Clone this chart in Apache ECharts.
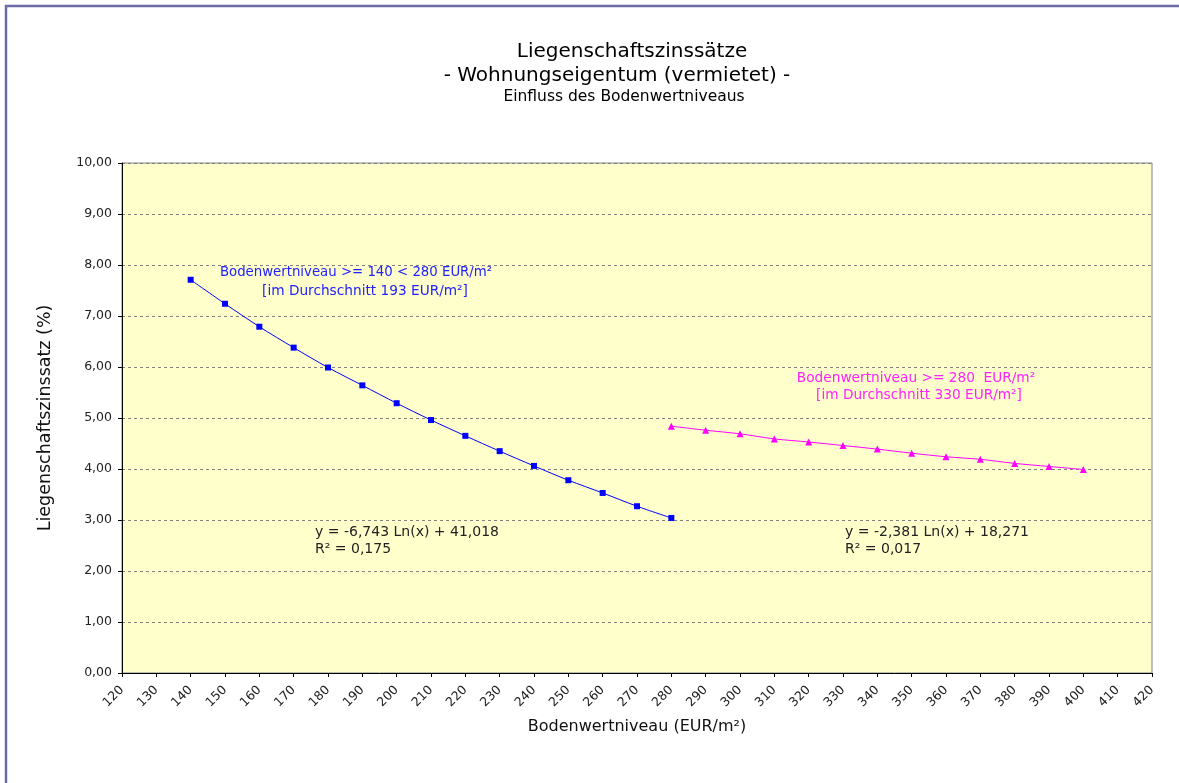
<!DOCTYPE html>
<html>
<head>
<meta charset="utf-8">
<script src="https://cdn.jsdelivr.net/npm/echarts@6/dist/echarts.min.js"></script>
<style>html,body{margin:0;padding:0;background:#fff}#chart{width:1179px;height:783px}</style>
</head>
<body>
<div id="chart"></div>
<script>
const lowX = [140, 150, 160, 170, 180, 190, 200, 210, 220, 230, 240, 250, 260, 270, 280]
const lowY = [7.71, 7.24, 6.79, 6.38, 5.99, 5.64, 5.29, 4.96, 4.65, 4.35, 4.06, 3.78, 3.53, 3.27, 3.04]
const highX = [280, 290, 300, 310, 320, 330, 340, 350, 360, 370, 380, 390, 400]
const highY = [4.84, 4.76, 4.69, 4.59, 4.53, 4.46, 4.39, 4.31, 4.24, 4.19, 4.11, 4.05, 3.99]
const titleLines = ['Liegenschaftszinssätze', '- Wohnungseigentum (vermietet) -', 'Einfluss des Bodenwertniveaus']
const lowNote = ['Bodenwertniveau >= 140 < 280 EUR/m²', '[im Durchschnitt 193 EUR/m²]']
const highNote = ['Bodenwertniveau >= 280  EUR/m²', '[im Durchschnitt 330 EUR/m²]']
const lowEq = ['y = -6,743 Ln(x) + 41,018', 'R² = 0,175']
const highEq = ['y = -2,381 Ln(x) + 18,271', 'R² = 0,017']

const font = 'DejaVu Sans, Verdana, sans-serif'
const chart = echarts.init(document.getElementById('chart'))
const txt = (x, y, s, size, color, align) => ({
  type: 'text', x, y,
  style: { text: s, font: size + 'px ' + font, fill: color, textAlign: align || 'left', textVerticalAlign: 'middle' }
})

chart.setOption({
  animation: false,
  grid: { left: 122, right: 27, top: 163, bottom: 110, show: true, backgroundColor: '#FFFFCC', borderColor: '#808080', borderWidth: 1 },
  xAxis: {
    type: 'value', min: 120, max: 420, interval: 10,
    name: 'Bodenwertniveau (EUR/m²)', nameLocation: 'middle', nameGap: 46,
    nameTextStyle: { fontFamily: font, fontSize: 16, color: '#111' },
    axisLine: { lineStyle: { color: '#000' } },
    axisTick: { show: true, length: 4, lineStyle: { color: '#000' } },
    axisLabel: { rotate: 45, fontFamily: font, fontSize: 12.5, color: '#222', margin: 15 },
    splitLine: { show: false }
  },
  yAxis: {
    type: 'value', min: 0, max: 10, interval: 1,
    name: 'Liegenschaftszinssatz (%)', nameLocation: 'middle', nameGap: 68,
    nameTextStyle: { fontFamily: font, fontSize: 17.5, color: '#111' },
    axisLine: { show: true, lineStyle: { color: '#000' } },
    axisTick: { show: true, length: 4, lineStyle: { color: '#000' } },
    axisLabel: { fontFamily: font, fontSize: 12.5, color: '#222', margin: 10, formatter: v => v.toFixed(2).replace('.', ',') },
    splitLine: { lineStyle: { color: '#808080', type: [3, 3] } }
  },
  series: [
    {
      type: 'line', data: lowX.map((x, i) => [x, lowY[i]]), smooth: 0.3,
      symbol: 'rect', symbolSize: 6,
      lineStyle: { color: '#0000FF', width: 1 }, itemStyle: { color: '#0000FF' }
    },
    {
      type: 'line', data: highX.map((x, i) => [x, highY[i]]), smooth: 0.3,
      symbol: 'triangle', symbolSize: 7,
      lineStyle: { color: '#FF00FF', width: 1 }, itemStyle: { color: '#FF00FF' }
    }
  ],
  graphic: [
    { type: 'rect', shape: { x: 6, y: 6, width: 1300, height: 900 }, style: { fill: 'none', stroke: '#6B6BA5', lineWidth: 2.5 }, silent: true },
    txt(632, 52, titleLines[0], 20, '#000', 'center'),
    txt(617, 76, titleLines[1], 20, '#000', 'center'),
    txt(624, 97, titleLines[2], 15.5, '#000', 'center'),
    txt(356, 273, lowNote[0], 13.3, '#2222FF', 'center'),
    txt(365, 291, lowNote[1], 13.7, '#2222FF', 'center'),
    txt(916, 378, highNote[0], 13.7, '#FF22FF', 'center'),
    txt(919, 395, highNote[1], 13.7, '#FF22FF', 'center'),
    txt(315, 532, lowEq[0], 14, '#222'),
    txt(315, 549, lowEq[1], 14, '#222'),
    txt(845, 532, highEq[0], 14, '#222'),
    txt(845, 549, highEq[1], 14, '#222')
  ]
})
</script>
</body>
</html>
